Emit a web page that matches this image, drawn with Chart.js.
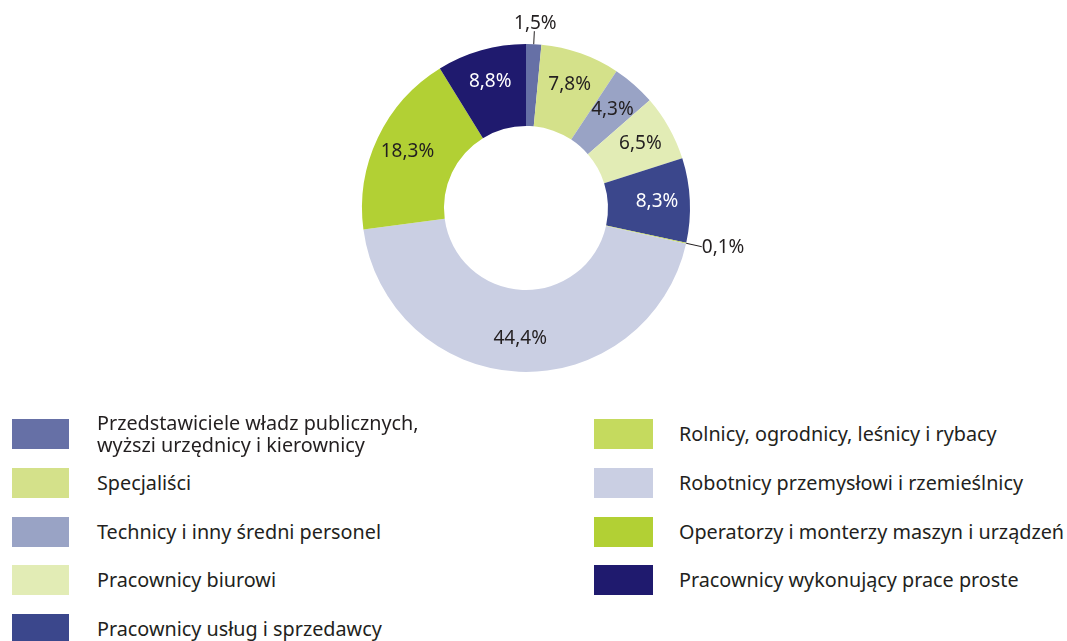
<!DOCTYPE html>
<html lang="pl">
<head>
<meta charset="UTF-8">
<title>Pracujący według grup zawodów</title>
<script src="https://cdn.jsdelivr.net/npm/chart.js@4.4.1/dist/chart.umd.min.js"></script>
<style>
  body { margin: 0; background: #fff; font-family: "Noto Sans", sans-serif; color: #231f20; }
  #wrap { position: relative; width: 1067px; height: 641px; overflow: hidden; }
  #chartBox { position: absolute; left: 0; top: 0; width: 1067px; height: 416px; }
  .item { position: absolute; display: flex; align-items: center; }
  .sw { flex: none; height: 30px; }
  .txt { font-size: 19.8px; line-height: 22px; white-space: pre; }
</style>
</head>
<body>
<div id="wrap">
  <div id="chartBox"><canvas id="chart"></canvas></div>
  <div id="legend"></div>
</div>
<script>
// grupy zawodów
const labels = [
  'Przedstawiciele władz publicznych,\nwyższi urzędnicy i kierownicy',
  'Specjaliści',
  'Technicy i inny średni personel',
  'Pracownicy biurowi',
  'Pracownicy usług i sprzedawcy',
  'Rolnicy, ogrodnicy, leśnicy i rybacy',
  'Robotnicy przemysłowi i rzemieślnicy',
  'Operatorzy i monterzy maszyn i urządzeń',
  'Pracownicy wykonujący prace proste'
];
const values = [1.5, 7.8, 4.3, 6.5, 8.3, 0.1, 44.4, 18.3, 8.8];
const colors = ['#6670a6', '#d4e18a', '#99a3c5', '#e2ecb5', '#3b478c', '#c5da5e', '#cacfe3', '#b2d034', '#1f1a6e'];
const labelColors = ['#231f20', '#231f20', '#231f20', '#231f20', '#ffffff', '#231f20', '#231f20', '#231f20', '#ffffff'];

function fmt(v) {
  return v.toFixed(1).replace('.', ',') + '%';
}

// etykiety procentowe na wycinkach (male wartosci na zewnatrz z linia)
const sliceLabels = {
  id: 'sliceLabels',
  afterDatasetsDraw(chart) {
    const ctx = chart.ctx;
    const meta = chart.getDatasetMeta(0);
    ctx.save();
    ctx.font = '19px "Noto Sans", sans-serif';
    meta.data.forEach((arc, i) => {
      const p = arc.getProps(['x', 'y', 'startAngle', 'endAngle', 'innerRadius', 'outerRadius']);
      const mid = (p.startAngle + p.endAngle) / 2;
      const cos = Math.cos(mid), sin = Math.sin(mid);
      const text = fmt(values[i]);
      if (values[i] < 2) {
        const x1 = p.x + cos * p.outerRadius, y1 = p.y + sin * p.outerRadius;
        const len = Math.abs(sin) > Math.abs(cos) ? 13 : 16;
        const x2 = x1 + cos * len, y2 = y1 + sin * len;
        ctx.strokeStyle = '#231f20';
        ctx.lineWidth = 1;
        ctx.beginPath();
        ctx.moveTo(x1, y1);
        ctx.lineTo(x2, y2);
        ctx.stroke();
        ctx.fillStyle = '#231f20';
        if (Math.abs(sin) > Math.abs(cos)) {
          ctx.textAlign = 'center';
          ctx.textBaseline = sin < 0 ? 'bottom' : 'top';
          ctx.fillText(text, x2 + 1, y2 + (sin < 0 ? 2 : -2));
        } else {
          ctx.textAlign = cos > 0 ? 'left' : 'right';
          ctx.textBaseline = 'middle';
          ctx.fillText(text, x2 + (cos > 0 ? 0 : -1), y2 + 1);
        }
      } else {
        const r = p.innerRadius + (p.outerRadius - p.innerRadius) * 0.6;
        ctx.fillStyle = labelColors[i];
        ctx.textAlign = 'center';
        ctx.textBaseline = 'middle';
        ctx.fillText(text, p.x + cos * r, p.y + sin * r);
      }
    });
    ctx.restore();
  }
};

new Chart(document.getElementById('chart'), {
  type: 'doughnut',
  data: {
    labels: labels,
    datasets: [{
      data: values,
      backgroundColor: colors,
      borderWidth: 0
    }]
  },
  options: {
    responsive: true,
    maintainAspectRatio: false,
    animation: false,
    cutout: '50%',
    layout: { padding: { left: 362, right: 377, top: 44, bottom: 44 } },
    plugins: {
      legend: { display: false },
      tooltip: { enabled: false }
    }
  },
  plugins: [sliceLabels]
});

// legenda w dwoch kolumnach
const legend = document.getElementById('legend');
labels.forEach((lab, i) => {
  const col = i < 5 ? 0 : 1;
  const row = i < 5 ? i : i - 5;
  const item = document.createElement('div');
  item.className = 'item';
  item.style.left = (col === 0 ? 12 : 594) + 'px';
  item.style.top = (419 + row * 48.75) + 'px';
  item.style.height = '30px';
  const sw = document.createElement('div');
  sw.className = 'sw';
  sw.style.width = (col === 0 ? 57 : 59) + 'px';
  sw.style.background = colors[i];
  sw.style.marginRight = (col === 0 ? 28 : 26) + 'px';
  const t = document.createElement('div');
  t.className = 'txt';
  t.textContent = lab;
  item.appendChild(sw);
  item.appendChild(t);
  legend.appendChild(item);
});
</script>
</body>
</html>
